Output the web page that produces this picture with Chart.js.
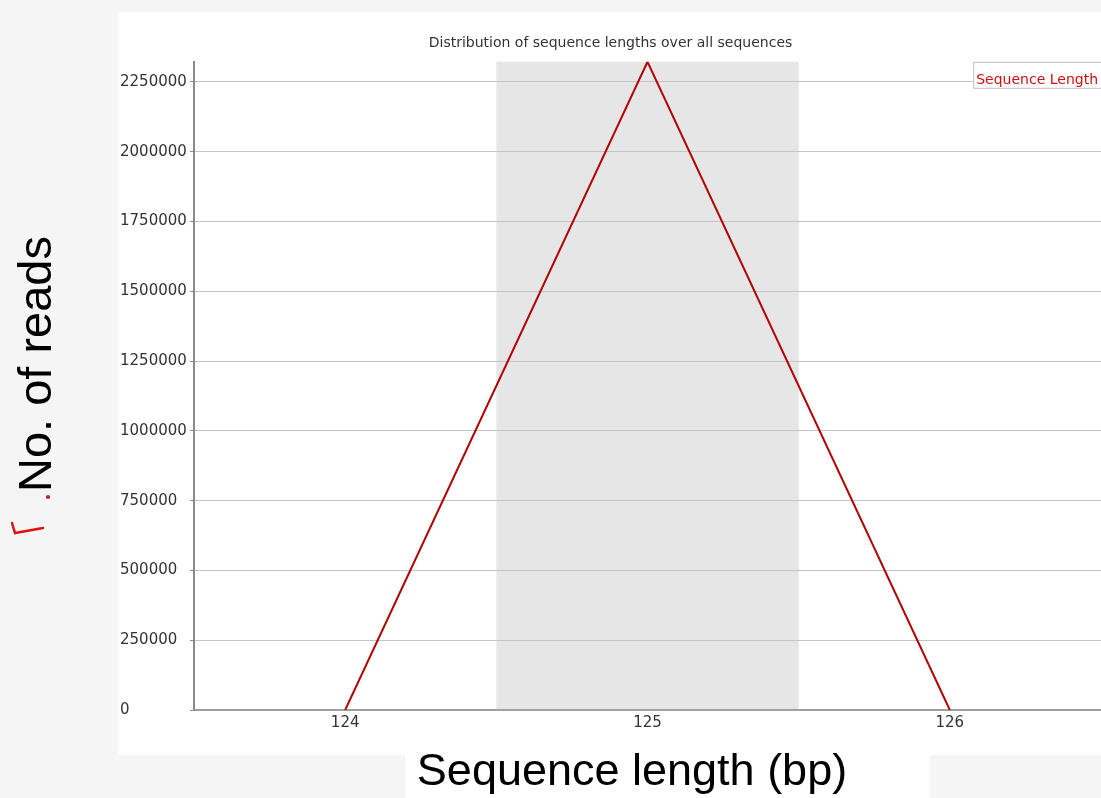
<!DOCTYPE html>
<html>
<head>
<meta charset="utf-8">
<script src="https://cdn.jsdelivr.net/npm/chart.js@4.4.1/dist/chart.umd.min.js"></script>
<style>
  html, body { margin: 0; padding: 0; background: #f5f5f5; }
  #wrap { width: 1101px; height: 798px; }
</style>
</head>
<body>
<div id="wrap"><canvas id="chart" width="1101" height="798"></canvas></div>
<script>
// data
const laengen = ["124", "125", "126"];
const anzahl = [0, 2322000, 0];
const yMax = 2322000;
const yTickWerte = [0, 250000, 500000, 750000, 1000000, 1250000, 1500000, 1750000, 2000000, 2250000];

const titel = "Distribution of sequence lengths over all sequences";
const xTitel = "Sequence length (bp)";
const yTitel = "No. of reads";
const reihenName = "Sequence Length";

Chart.defaults.font.family = "'DejaVu Sans', sans-serif";

/* Hintergrund + graue Streifen */
const hintergrund = {
  id: "hintergrund",
  beforeDraw(chart) {
    const ctx = chart.ctx;
    const area = chart.chartArea;
    const x = chart.scales.x;
    ctx.save();
    ctx.fillStyle = "#f5f5f5";
    ctx.fillRect(0, 0, chart.width, chart.height);
    ctx.fillStyle = "#ffffff";
    ctx.fillRect(118, 12, chart.width - 118, 743);
    ctx.fillRect(405, 755, 525, 43);

    // every second category gets a grey band
    const breite = x.getPixelForValue(1) - x.getPixelForValue(0);
    ctx.fillStyle = "#e6e6e6";
    for (let i = 1; i < laengen.length; i += 2) {
      const mitte = x.getPixelForValue(i);
      ctx.fillRect(mitte - breite / 2, area.top, breite, area.bottom - area.top);
    }
    ctx.restore();
  }
};

/* Achsentitel, Legende, rote Markierung */
const beschriftung = {
  id: "beschriftung",
  afterDraw(chart) {
    const ctx = chart.ctx;
    const area = chart.chartArea;
    ctx.save();

    // legend box in the top right corner
    ctx.font = "14px 'DejaVu Sans'";
    const w = ctx.measureText(reihenName).width;
    const bx = area.right - w - 6;
    ctx.fillStyle = "#ffffff";
    ctx.fillRect(bx, area.top, w + 10, 27);
    ctx.strokeStyle = "#c0c0c0";
    ctx.lineWidth = 1;
    ctx.strokeRect(bx + 0.5, area.top + 0.5, w + 10, 26);
    ctx.fillStyle = "#cc1111";
    ctx.textBaseline = "alphabetic";
    ctx.textAlign = "left";
    ctx.fillText(reihenName, bx + 3, area.top + 22);

    // x title
    ctx.fillStyle = "#000000";
    ctx.font = "45px 'Liberation Sans', Arial, sans-serif";
    ctx.textAlign = "center";
    ctx.fillText(xTitel, 632, 785);

    // y title
    ctx.save();
    ctx.translate(51, 364);
    ctx.rotate(-Math.PI / 2);
    ctx.font = "47px 'Liberation Sans', Arial, sans-serif";
    ctx.fillText(yTitel, 0, 0);
    ctx.restore();

    // red pen annotation
    ctx.fillStyle = "#e01010";
    ctx.beginPath();
    ctx.arc(48, 497, 2, 0, Math.PI * 2);
    ctx.fill();
    ctx.strokeStyle = "#e01010";
    ctx.lineWidth = 2.5;
    ctx.lineCap = "round";
    ctx.beginPath();
    ctx.moveTo(12, 523);
    ctx.lineTo(15, 533);
    ctx.lineTo(43, 528);
    ctx.stroke();

    ctx.restore();
  }
};

const chart = new Chart(document.getElementById("chart"), {
  type: "line",
  data: {
    labels: laengen,
    datasets: [
      {
        label: reihenName,
        data: anzahl,
        borderColor: "#b30000",
        borderWidth: 2,
        pointRadius: 0,
        tension: 0,
        fill: false
      }
    ]
  },
  options: {
    responsive: false,
    animation: false,
    layout: { padding: { left: 120, top: 27, right: 0, bottom: 0 } },
    plugins: {
      legend: { display: false },
      tooltip: { enabled: false },
      title: {
        display: true,
        text: titel,
        color: "#333333",
        font: { size: 14, weight: "normal" },
        padding: { top: 8, bottom: 10 }
      }
    },
    scales: {
      x: {
        offset: true,
        grid: { display: false, drawTicks: false },
        border: { color: "#a0a0a0", width: 2 },
        ticks: { color: "#333333", font: { size: 15 }, padding: 4 },
        afterFit(s) { s.height = 88; }
      },
      y: {
        min: 0,
        max: yMax,
        afterBuildTicks(s) {
          s.ticks = yTickWerte.map(v => ({ value: v }));
        },
        ticks: {
          crossAlign: "far",
          color: "#333333",
          font: { size: 15 },
          callback: function (v) { return String(v); }
        },
        grid: { color: "#c4c4c4", lineWidth: 1, tickLength: 4, tickColor: "#8a8a8a" },
        border: { color: "#8a8a8a", width: 2 },
        afterFit(s) { s.width = 74; }
      }
    }
  },
  plugins: [hintergrund, beschriftung]
});
</script>
</body>
</html>
